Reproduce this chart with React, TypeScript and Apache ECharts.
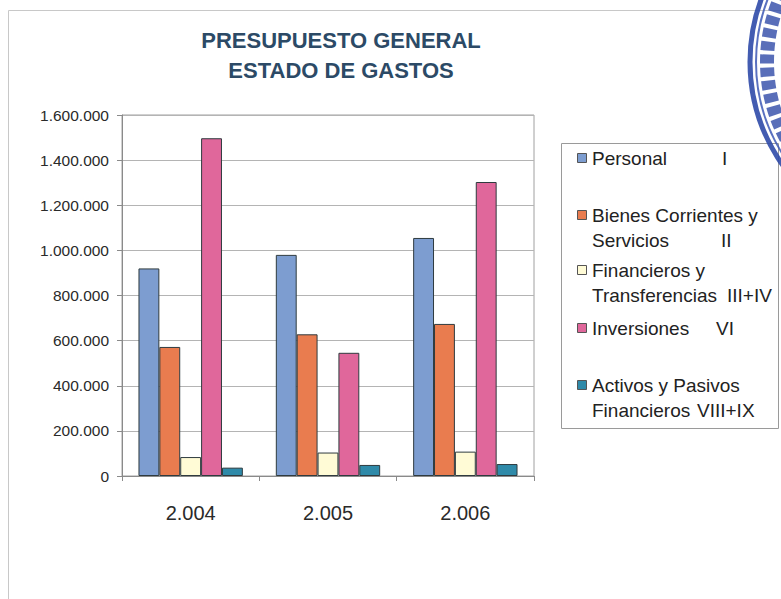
import React, { useEffect, useRef } from "react";
import * as echarts from "echarts";

const years = ["2.004", "2.005", "2.006"];
const seriesNames = [
  "Personal I",
  "Bienes Corrientes y Servicios II",
  "Financieros y Transferencias III+IV",
  "Inversiones VI",
  "Activos y Pasivos Financieros VIII+IX",
];
const personal = [920000, 980000, 1055000];
const bienes = [572000, 628000, 674000];
const financieros = [84000, 104000, 108000];
const inversiones = [1497000, 546000, 1303000];
const activos = [37000, 49000, 53000];
const seriesValues = [personal, bienes, financieros, inversiones, activos];
const seriesColors = ["#7d9dd0", "#e97c4f", "#fffbd6", "#e0679b", "#2f8aa9"];
const legendMain = [
  ["Personal"],
  ["Bienes Corrientes y", "Servicios"],
  ["Financieros y", "Transferencias"],
  ["Inversiones"],
  ["Activos y Pasivos", "Financieros"],
];
const legendNumerals = ["I", "II", "III+IV", "VI", "VIII+IX"];
const titleLines = ["PRESUPUESTO GENERAL", "ESTADO DE GASTOS"];
const yMax = 1600000;
const yStep = 200000;

const FONT = "'Liberation Sans', Arial, sans-serif";

function fmt(v: number): string {
  return String(v).replace(/\B(?=(\d{3})+(?!\d))/g, ".");
}

export default function App() {
  const ref = useRef<HTMLDivElement>(null);
  useEffect(() => {
    if (!ref.current) return;
    const chart = echarts.init(ref.current, null, { renderer: "svg" });

    const legendRowY = [158, 215, 270, 328, 385];
    const numeralX = [722, 721, 727, 716, 697];
    const graphic: any[] = [
      {
        type: "rect",
        shape: { x: 8.5, y: 10.5, width: 900, height: 800 },
        style: { fill: "none", stroke: "#c8c8c8", lineWidth: 1 },
        z: -10,
      },
      {
        type: "rect",
        shape: { x: 561.5, y: 143.5, width: 217, height: 285 },
        style: { fill: "#ffffff", stroke: "#9a9a9a", lineWidth: 1 },
        z: 1,
      },
      // seal on the right edge
      {
        type: "circle",
        shape: { cx: 929, cy: 62, r: 179 },
        style: { fill: "none", stroke: "#2f4aa8", lineWidth: 5, opacity: 0.9 },
        z: 5,
      },
      {
        type: "circle",
        shape: { cx: 929, cy: 62, r: 173 },
        style: { fill: "none", stroke: "#3d58b5", lineWidth: 2, opacity: 0.85 },
        z: 5,
      },
      {
        type: "circle",
        shape: { cx: 929, cy: 62, r: 162 },
        style: { fill: "none", stroke: "#2f4aa8", lineWidth: 14, lineDash: [9, 4], opacity: 0.8 },
        z: 5,
      },
    ];
    titleLines.forEach((t, i) => {
      graphic.push({
        type: "text",
        x: 341,
        y: 40 + i * 30,
        style: {
          text: t,
          fill: "#2c4a66",
          font: `bold 22px ${FONT}`,
          textAlign: "center",
          textVerticalAlign: "middle",
        },
        z: 2,
      });
    });
    legendMain.forEach((lines, i) => {
      const y0 = legendRowY[i];
      graphic.push({
        type: "rect",
        shape: { x: 577.5, y: y0 - 4.5, width: 9, height: 9 },
        style: { fill: seriesColors[i], stroke: "#555", lineWidth: 1 },
        z: 2,
      });
      lines.forEach((ln, j) => {
        graphic.push({
          type: "text",
          x: 592,
          y: y0 + j * 25,
          style: {
            text: ln,
            fill: "#222",
            font: `19px ${FONT}`,
            textVerticalAlign: "middle",
          },
          z: 2,
        });
      });
      graphic.push({
        type: "text",
        x: numeralX[i],
        y: y0 + (lines.length - 1) * 25,
        style: {
          text: legendNumerals[i],
          fill: "#222",
          font: `19px ${FONT}`,
          textVerticalAlign: "middle",
        },
        z: 2,
      });
    });

    chart.setOption({
      animation: false,
      backgroundColor: "#ffffff",
      grid: {
        left: 122,
        right: 247,
        top: 115,
        bottom: 123,
        show: true,
        borderColor: "#a0a0a0",
        borderWidth: 1,
        backgroundColor: "transparent",
      },
      xAxis: {
        type: "category",
        data: years,
        axisLine: { show: true, lineStyle: { color: "#8a8a8a" } },
        axisTick: { show: true, alignWithLabel: false, length: 5, lineStyle: { color: "#8a8a8a" } },
        axisLabel: { color: "#2a2a2a", fontSize: 20, fontFamily: FONT, margin: 27 },
      },
      yAxis: {
        type: "value",
        min: 0,
        max: yMax,
        interval: yStep,
        axisLine: { show: true, lineStyle: { color: "#8a8a8a" } },
        axisTick: { show: true, length: 5, lineStyle: { color: "#8a8a8a" } },
        axisLabel: {
          color: "#2a2a2a",
          fontSize: 15.5,
          fontFamily: FONT,
          margin: 13,
          formatter: (v: number) => fmt(v),
        },
        splitLine: { show: true, lineStyle: { color: "#b4b4b4" } },
      },
      series: seriesNames.map((name, i) => ({
        name,
        type: "bar",
        data: seriesValues[i],
        barGap: "0%",
        barCategoryGap: "24%",
        itemStyle: { color: seriesColors[i], borderColor: "#2f3b3f", borderWidth: 1 },
      })),
      graphic,
    });
    return () => chart.dispose();
  }, []);
  return (
    <div
      ref={ref}
      style={{ position: "fixed", left: 0, top: 0, width: 781, height: 599, background: "#fff" }}
    />
  );
}
